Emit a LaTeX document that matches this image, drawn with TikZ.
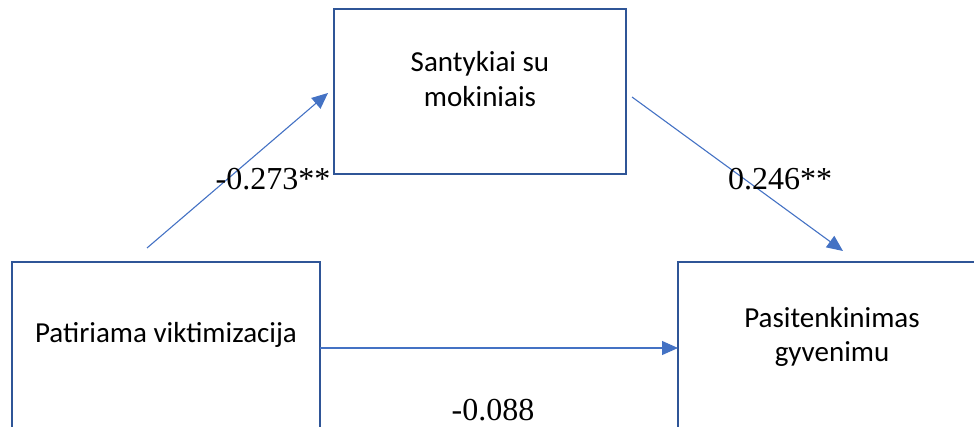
\documentclass[tikz,border=0pt]{standalone}
\usepackage{fontspec}
\setmainfont{Liberation Serif}
\newfontfamily\boxfont{Carlito}
\usetikzlibrary{arrows.meta}
\definecolor{boxblue}{HTML}{2F5597}
\definecolor{lineblue}{HTML}{4472C4}
\tikzset{
  varbox/.style={draw=boxblue, line width=2.8pt, fill=none, inner sep=0pt},
  boxtext/.style={font=\boxfont\fontsize{29}{35}\selectfont, align=center, anchor=base, inner sep=0pt},
  coef/.style={font=\fontsize{32}{36}\selectfont, anchor=base, inner sep=0pt},
  path/.style={draw=lineblue, line width=1.1pt, -{Triangle[length=16pt,width=14pt]}}
}
\begin{document}
\begin{tikzpicture}[x=1pt,y=-1pt]
\useasboundingbox (0,0) rectangle (974,427);
% boxes
\draw[varbox] (12,262) rectangle (320,440);
\draw[varbox] (334,9) rectangle (626,174);
\draw[varbox] (678,262) rectangle (990,440);
% box anchors
\coordinate (xE) at (320,348);
\coordinate (yW) at (678,348);
\coordinate (a1s) at (147,248);
\coordinate (a1e) at (328,93);
\coordinate (a2s) at (632,97);
\coordinate (a2e) at (843,251);
% texts
\node[boxtext] (tx) at (166,343) {Patiriama viktimizacija};
\node[boxtext] (tm) at (480,107) {Santykiai su\\mokiniais};
\node[boxtext] (ty) at (832,362) {Pasitenkinimas\\gyvenimu};
% arrows
\draw[path] (a1s) -- (a1e);
\draw[path] (a2s) -- (a2e);
\draw[path] (xE) -- (yW);
% coefficients
\node[coef] (c1) at (273,190) {-0.273**};
\node[coef] (c2) at (780,190) {0.246**};
\node[coef] (c3) at (493,420) {-0.088};
\end{tikzpicture}
\end{document}
